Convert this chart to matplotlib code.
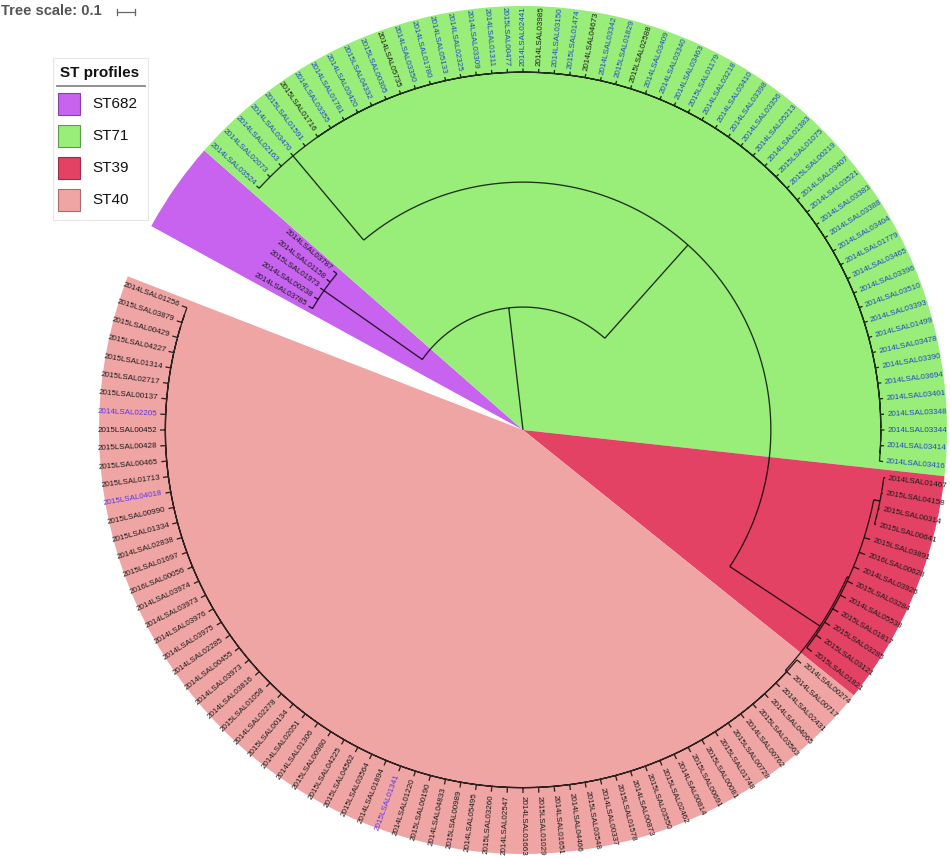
import numpy as np
import matplotlib
matplotlib.use('Agg')
import matplotlib.pyplot as plt
from matplotlib.patches import Wedge, Rectangle, PathPatch
from matplotlib.path import Path

plt.rcParams['font.family'] = ['Liberation Sans', 'DejaVu Sans']

# ---------------- data ----------------
GROUPS = ['ST682', 'ST71', 'ST39', 'ST40']
GROUP_COLORS = ['#c863f0', '#98ee78', '#e34264', '#f0a5a5']
GROUP_EDGES = ['#8a3fa8', '#5f9a4c', '#a02c48', '#a86e6e']

# leaves listed clockwise
ST682 = ['2014LSAL03785', '2014LSAL00238', '2015LSAL01973', '2014LSAL01158', '2014LSAL03787']
ST71 = ['2014LSAL03524', '2014LSAL02073', '2014LSAL02163', '2014LSAL03470', '2015LSAL01591',
        '2015LSAL01716', '2014LSAL03355', '2014LSAL01781', '2014LSAL03420', '2015LSAL04332',
        '2015LSAL00305', '2014LSAL05735', '2014LSAL03350', '2014LSAL01780', '2014LSAL05133',
        '2014LSAL02325', '2014LSAL03309', '2014LSAL01311', '2015LSAL00477', '2014LSAL02441',
        '2014LSAL03985', '2014LSAL03150', '2015LSAL01474', '2014LSAL04673', '2014LSAL03342',
        '2015LSAL01829', '2015LSAL02588', '2014LSAL03409', '2014LSAL03340', '2014LSAL03463',
        '2015LSAL01179', '2014LSAL03218', '2014LSAL03410', '2014LSAL03398', '2014LSAL03356',
        '2014LSAL05213', '2014LSAL01383', '2015LSAL01075', '2015LSAL00219', '2014LSAL03407',
        '2014LSAL03521', '2014LSAL03383', '2014LSAL03388', '2014LSAL03404', '2014LSAL01779',
        '2014LSAL03465', '2014LSAL03396', '2014LSAL03510', '2014LSAL03393', '2014LSAL01499',
        '2014LSAL03478', '2014LSAL03390', '2014LSAL03694', '2014LSAL03401', '2014LSAL03348',
        '2014LSAL03344', '2014LSAL03414', '2014LSAL03416']
ST39 = ['2014LSAL01467', '2015LSAL04158', '2015LSAL00314', '2015LSAL00641', '2015LSAL03891',
        '2016LSAL00628', '2014LSAL03926', '2015LSAL03284', '2014LSAL05538', '2015LSAL01817',
        '2015LSAL03285', '2015LSAL03121', '2015LSAL01821']
ST40 = ['2014LSAL00274', '2014LSAL00717', '2014LSAL02431', '2014LSAL04065', '2015LSAL03563',
        '2014LSAL00762', '2015LSAL00728', '2015LSAL01748', '2015LSAL00081', '2015LSAL00691',
        '2014LSAL00814', '2015LSAL02462', '2015LSAL03550', '2014LSAL00873', '2015LSAL01578',
        '2014LSAL00337', '2015LSAL03548', '2014LSAL04466', '2014LSAL01651', '2015LSAL01029',
        '2014LSAL01663', '2014LSAL02547', '2015LSAL03260', '2014LSAL05495', '2015LSAL00989',
        '2014LSAL04833', '2015LSAL00190', '2014LSAL01220', '2015LSAL01341', '2014LSAL01894',
        '2015LSAL03564', '2015LSAL04562', '2015LSAL04225', '2015LSAL00980', '2014LSAL01306',
        '2014LSAL02051', '2015LSAL00134', '2014LSAL02278', '2015LSAL01058', '2014LSAL03816',
        '2014LSAL03973', '2014LSAL00455', '2014LSAL02285', '2014LSAL03975', '2014LSAL03976',
        '2014LSAL03973', '2014LSAL03974', '2016LSAL00056', '2015LSAL01697', '2014LSAL02838',
        '2015LSAL01334', '2015LSAL00990', '2015LSAL04018', '2015LSAL01713', '2015LSAL00465',
        '2015LSAL00428', '2015LSAL00452', '2014LSAL02205', '2015LSAL00137', '2015LSAL02717',
        '2015LSAL01314', '2015LSAL04227', '2015LSAL00429', '2015LSAL03879', '2014LSAL01256']

ST71_BLACK = ['2015LSAL01716', '2014LSAL05735', '2014LSAL03985', '2014LSAL04673', '2015LSAL02588']
VIOLET = ['2015LSAL01341', '2014LSAL02205', '2015LSAL04018']

# branch lengths (tree units)
BL_ROOT_A = 0.683
BL_A_P = 0.667
BL_P_LEAF = 0.025
BL_A_B = 0.694
BL_B_C = 0.611
BL_C_LEAF = 0.02
BL_B_D = 0.60
BL_D_F = 0.01
BL_F_F2 = 0.035
BL_F_LEAF = 0.035
BL_F2_LEAF = 0.008
BL_D_G = 0.01
BL_G_LEAF = 0.03
ST71_STAR = 5
ST39_SUB = 4
TREE_SCALE = 0.1

# ---------------- layout params ----------------
W, H = 950, 858
CX, CY = 523, H - 430
PX = 180.0          # pixels per tree unit
START, STEP = 150.0, 2.5
R_OUT = 424
LABEL_PAD = 3
LABEL_FS = 5.75


def leaf(n, L):
    return {'name': n, 'len': L, 'children': []}


def node(ch, L):
    return {'name': None, 'len': L, 'children': ch}


def ladder(names, leaf_len, L=0.0):
    if len(names) == 2:
        return node([leaf(names[0], leaf_len), leaf(names[1], leaf_len)], L)
    return node([leaf(names[0], leaf_len), ladder(names[1:], leaf_len, 0.0)], L)


P = node([leaf(n, BL_P_LEAF) for n in ST682], BL_A_P)
C = node([leaf(n, BL_C_LEAF) for n in ST71[:ST71_STAR]] +
         [ladder(ST71[ST71_STAR:], BL_C_LEAF, 0.0)], BL_B_C)
F2 = node([leaf(n, BL_F2_LEAF) for n in ST39[:ST39_SUB]], BL_F_F2)
F = node([F2] + [leaf(n, BL_F_LEAF) for n in ST39[ST39_SUB:]], BL_D_F)
G = ladder(ST40, BL_G_LEAF, BL_D_G)
D = node([F, G], BL_B_D)
B = node([C, D], BL_A_B)
A = node([P, B], BL_ROOT_A)
ROOT = node([A], 0.0)

counter = [0]
leaves = []


def layout(nd, r0):
    nd['r'] = r0 + nd['len']
    if not nd['children']:
        nd['a'] = START - STEP * counter[0]
        counter[0] += 1
        leaves.append(nd)
    else:
        for c in nd['children']:
            layout(c, nd['r'])
        nd['a'] = 0.5 * (nd['children'][0]['a'] + nd['children'][-1]['a'])


layout(ROOT, 0.0)


def pt(r, a):
    t = np.deg2rad(a)
    return CX + r * PX * np.cos(t), CY + r * PX * np.sin(t)


verts, codes = [], []


def collect(nd, parent_r):
    if parent_r is not None and nd['len'] > 0:
        verts.append(pt(parent_r, nd['a'])); codes.append(Path.MOVETO)
        verts.append(pt(nd['r'], nd['a'])); codes.append(Path.LINETO)
    if len(nd['children']) >= 2:
        a0, a1 = nd['children'][0]['a'], nd['children'][-1]['a']
        n = max(2, int(abs(a1 - a0) * 2) + 2)
        for i, a in enumerate(np.linspace(a0, a1, n)):
            verts.append(pt(nd['r'], a))
            codes.append(Path.MOVETO if i == 0 else Path.LINETO)
    for c in nd['children']:
        collect(c, nd['r'])


collect(ROOT, None)

# ---------------- drawing ----------------
fig = plt.figure(figsize=(W / 100, H / 100), dpi=100)
ax = fig.add_axes([0, 0, 1, 1])
ax.set_xlim(0, W)
ax.set_ylim(0, H)
ax.set_aspect('equal')
ax.axis('off')

group_members = [ST682, ST71, ST39, ST40]
idx = 0
for gi, members in enumerate(group_members):
    a_first = leaves[idx]['a']
    a_last = leaves[idx + len(members) - 1]['a']
    idx += len(members)
    ax.add_patch(Wedge((CX, CY), R_OUT, a_last - STEP / 2, a_first + STEP / 2,
                       facecolor=GROUP_COLORS[gi], edgecolor='none', zorder=1))

ax.add_patch(PathPatch(Path(verts, codes), fill=False, edgecolor='black',
                       alpha=0.8, lw=0.95, capstyle='butt', joinstyle='miter', zorder=2))

# labels
st71_set = set(ST71)
for lf in leaves:
    name = lf['name']
    a = lf['a']
    an = (a + 180) % 360 - 180
    rr = lf['r'] * PX + LABEL_PAD
    x, y = CX + rr * np.cos(np.deg2rad(an)), CY + rr * np.sin(np.deg2rad(an))
    if np.cos(np.deg2rad(an)) >= 0:
        rot, ha = an, 'left'
    else:
        rot, ha = an + 180, 'right'
    if name in VIOLET:
        col = '#5b35e6'
    elif name in st71_set and name not in ST71_BLACK:
        col = '#2446c8'
    else:
        col = '#1a1a1a'
    ax.text(x, y, name, rotation=rot, rotation_mode='anchor', ha=ha, va='center',
            fontsize=LABEL_FS, color=col, zorder=3)

# tree scale
ax.text(1, H - 11, 'Tree scale: %g' % TREE_SCALE, fontsize=10.5, fontweight='bold',
        color='#555555', ha='left', va='center')
sx0, sy = 117, H - 12
sx1 = sx0 + TREE_SCALE * PX
ax.plot([sx0, sx1], [sy, sy], color='#666666', lw=0.9)
ax.plot([sx0, sx0], [sy - 3, sy + 3], color='#666666', lw=0.9)
ax.plot([sx1, sx1], [sy - 3, sy + 3], color='#666666', lw=0.9)

# legend
ax.add_patch(Rectangle((53, H - 220), 95, 162, facecolor='white', edgecolor='#e6e6e6',
                       lw=0.8, zorder=4))
ax.text(100, H - 73, 'ST profiles', fontsize=11, fontweight='bold', ha='center',
        va='center', color='#111111', zorder=5)
ax.plot([57, 145], [H - 86, H - 86], color='#888888', lw=1.3, zorder=5)
for i, g in enumerate(GROUPS):
    top = 93 + 32 * i
    ax.add_patch(Rectangle((58, H - top - 22), 22, 22, facecolor=GROUP_COLORS[i],
                           edgecolor=GROUP_EDGES[i], lw=0.8, zorder=5))
    ax.text(92, H - top - 11, g, fontsize=11, ha='left', va='center', color='#111111',
            zorder=5)

fig.savefig('out.png', dpi=100)
